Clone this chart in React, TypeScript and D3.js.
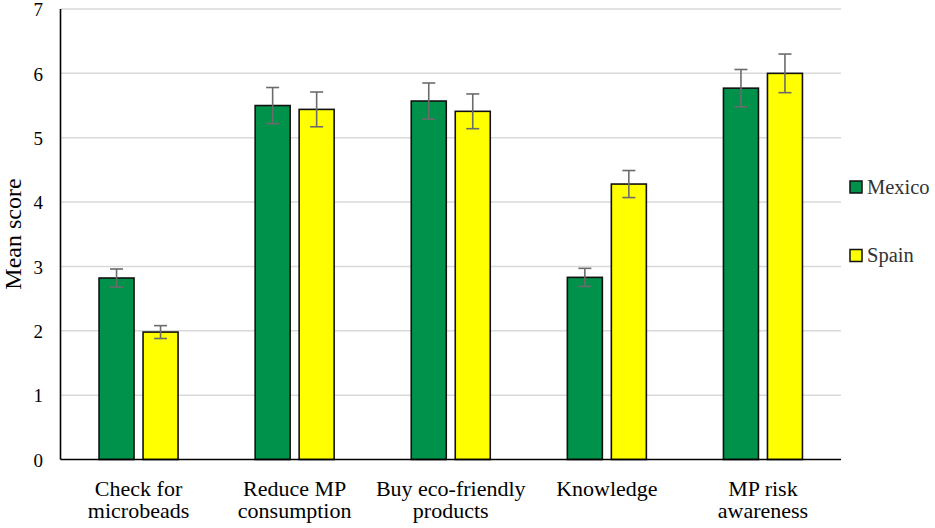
import { useEffect, useRef } from "react";
import * as d3 from "d3";

const categories = [
  ["Check for", "microbeads"],
  ["Reduce MP", "consumption"],
  ["Buy eco-friendly", "products"],
  ["Knowledge"],
  ["MP risk", "awareness"],
];
const seriesNames = ["Mexico", "Spain"];
const mexico = [2.82, 5.5, 5.57, 2.83, 5.77];
const spain = [1.98, 5.44, 5.41, 4.28, 6.0];
const mexicoErr = [0.14, 0.28, 0.28, 0.14, 0.29];
const spainErr = [0.1, 0.27, 0.27, 0.21, 0.3];
const yTicks = [0, 1, 2, 3, 4, 5, 6, 7];
const colors = ["#00914B", "#FFFF00"];

const W = 935;
const H = 528;
const FONT = "'Liberation Serif', serif";

export default function App() {
  const svgRef = useRef<SVGSVGElement>(null);

  useEffect(() => {
    if (!svgRef.current) return;
    const svg = d3.select(svgRef.current);
    svg.selectAll("*").remove();

    const plot = { left: 60.5, right: 841, top: 9, bottom: 459.5 };
    const keys = categories.map((c) => c.join(" "));

    const x0 = d3.scaleBand<string>().domain(keys).range([plot.left, plot.right]);
    const x1 = d3.scaleBand<string>().domain(seriesNames).range([-39.5, 39.5]).paddingInner(0.2045);
    const y = d3.scaleLinear().domain([0, 7]).range([plot.bottom, plot.top]);

    // gridlines
    svg.append("g")
      .selectAll("line")
      .data(yTicks.filter((t) => t > 0))
      .enter()
      .append("line")
      .attr("x1", plot.left)
      .attr("x2", plot.right)
      .attr("y1", (d) => y(d))
      .attr("y2", (d) => y(d))
      .style("stroke", "#d9d9d9")
      .style("stroke-width", 1.5);

    // y tick labels
    svg.append("g")
      .selectAll("text")
      .data(yTicks)
      .enter()
      .append("text")
      .attr("x", 43)
      .attr("y", (d) => y(d))
      .attr("dy", "0.38em")
      .attr("text-anchor", "end")
      .style("font-family", FONT)
      .style("font-size", "19px")
      .style("fill", "#000")
      .text((d) => d);

    // bars
    const data = keys.map((k, i) => ({
      key: k,
      vals: [
        { s: seriesNames[0], v: mexico[i], e: mexicoErr[i], c: colors[0] },
        { s: seriesNames[1], v: spain[i], e: spainErr[i], c: colors[1] },
      ],
    }));

    const groups = svg.append("g")
      .selectAll("g")
      .data(data)
      .enter()
      .append("g")
      .attr("transform", (d) => `translate(${x0(d.key)! + x0.bandwidth() / 2},0)`);

    groups.selectAll("rect")
      .data((d) => d.vals)
      .enter()
      .append("rect")
      .attr("x", (d) => x1(d.s)!)
      .attr("y", (d) => y(d.v))
      .attr("width", x1.bandwidth())
      .attr("height", (d) => y(0) - y(d.v))
      .style("fill", (d) => d.c)
      .style("stroke", "#111")
      .style("stroke-width", 1.6);

    // error bars
    const eb = groups.selectAll("g.err")
      .data((d) => d.vals)
      .enter()
      .append("g")
      .attr("class", "err")
      .attr("transform", (d) => `translate(${x1(d.s)! + x1.bandwidth() / 2},0)`);

    eb.append("line")
      .attr("x1", 0).attr("x2", 0)
      .attr("y1", (d) => y(d.v + d.e))
      .attr("y2", (d) => y(d.v - d.e))
      .style("stroke", "#6b6b6b")
      .style("stroke-width", 1.6);
    [1, -1].forEach((sign) => {
      eb.append("line")
        .attr("x1", -6.5).attr("x2", 6.5)
        .attr("y1", (d) => y(d.v + sign * d.e))
        .attr("y2", (d) => y(d.v + sign * d.e))
        .style("stroke", "#6b6b6b")
        .style("stroke-width", 1.6);
    });

    // axes
    svg.append("line")
      .attr("x1", plot.left).attr("x2", plot.left)
      .attr("y1", plot.top).attr("y2", plot.bottom)
      .style("stroke", "#000").style("stroke-width", 1.6);
    svg.append("line")
      .attr("x1", plot.left).attr("x2", plot.right)
      .attr("y1", plot.bottom).attr("y2", plot.bottom)
      .style("stroke", "#000").style("stroke-width", 1.6);

    // category labels
    const lab = svg.append("g")
      .selectAll("text")
      .data(categories)
      .enter()
      .append("text")
      .attr("x", (_, i) => x0(keys[i])! + x0.bandwidth() / 2)
      .attr("y", 495.5)
      .attr("text-anchor", "middle")
      .style("font-family", FONT)
      .style("font-size", "22px")
      .style("fill", "#000");
    lab.selectAll("tspan")
      .data((d) => d)
      .enter()
      .append("tspan")
      .attr("x", function () {
        return (this as SVGTSpanElement).parentElement!.getAttribute("x");
      })
      .attr("dy", (_, i) => (i === 0 ? 0 : 22.7))
      .text((d) => d);

    // y title
    svg.append("text")
      .attr("transform", `translate(21,234) rotate(-90)`)
      .attr("text-anchor", "middle")
      .style("font-family", FONT)
      .style("font-size", "24px")
      .style("fill", "#000")
      .text("Mean score");

    // legend
    const legendY = [187, 255.5];
    const lg = svg.append("g")
      .selectAll("g")
      .data(seriesNames)
      .enter()
      .append("g")
      .attr("transform", (_, i) => `translate(850,${legendY[i]})`);
    lg.append("rect")
      .attr("x", 0).attr("y", -6)
      .attr("width", 12).attr("height", 12)
      .style("fill", (_, i) => colors[i])
      .style("stroke", "#111")
      .style("stroke-width", 1.5);
    lg.append("text")
      .attr("x", 17)
      .attr("y", 0)
      .attr("dy", "0.34em")
      .style("font-family", FONT)
      .style("font-size", "20.5px")
      .style("fill", "#333")
      .text((d) => d);
  }, []);

  return (
    <svg
      ref={svgRef}
      width={W}
      height={H}
      style={{ position: "absolute", left: 0, top: 0, background: "#fff" }}
    />
  );
}
